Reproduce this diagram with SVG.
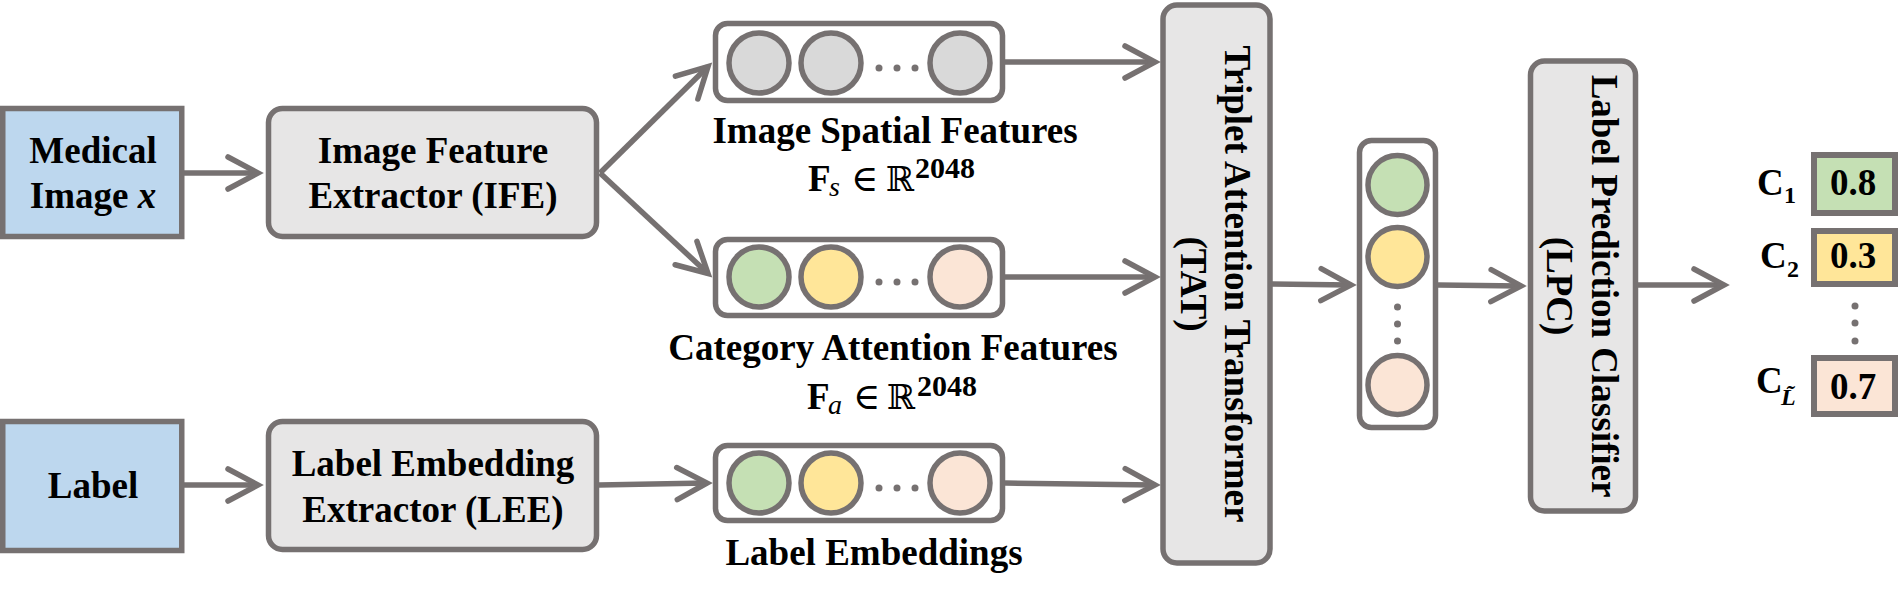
<svg xmlns="http://www.w3.org/2000/svg" width="1901" height="598" viewBox="0 0 1901 598">
<style>
.t{font-family:"Liberation Serif","Times New Roman",serif;font-weight:bold;font-size:37px;fill:#000}
.c{text-anchor:middle}
.box{fill:#e7e6e6;stroke:#767171;stroke-width:5.5}
.in{fill:#bdd7ee;stroke:#767171;stroke-width:5.5}
.vec{fill:#fff;stroke:#767171;stroke-width:5.5}
.cir{stroke:#767171;stroke-width:5.5}
.g{fill:#d9d9d9}.gr{fill:#c5e0b4}.ye{fill:#ffe699}.pe{fill:#fbe5d6}
.dot{fill:#767171}
.out{stroke:#767171;stroke-width:6}
.conn line{stroke:#767171;stroke-width:5.5;fill:none;marker-end:url(#ah)}
.m{font-family:"Liberation Serif","DejaVu Serif",serif;font-size:37px;fill:#000}
</style>
<defs>
<marker id="ah" markerUnits="userSpaceOnUse" markerWidth="50" markerHeight="50" viewBox="-40 -25 50 50" refX="0" refY="0" orient="auto" overflow="visible">
<path d="M-30,-16 L0,0 L-30,16" fill="none" stroke="#767171" stroke-width="5.5" stroke-linecap="round" stroke-linejoin="miter"/>
</marker>
</defs>

<g id="medical-image">
<rect class="in" x="2.75" y="108.5" width="179" height="128"/>
<text class="t c" x="93" y="163">Medical</text>
<text class="t c" x="93" y="208">Image <tspan font-style="italic">x</tspan></text>
</g>

<g id="label">
<rect class="in" x="2.75" y="421.5" width="179" height="129"/>
<text class="t c" x="93" y="498">Label</text>
</g>

<g id="ife">
<rect class="box" x="268.5" y="108.5" width="328" height="128" rx="14"/>
<text class="t c" x="433" y="163">Image Feature</text>
<text class="t c" x="433" y="208">Extractor (IFE)</text>
</g>

<g id="lee">
<rect class="box" x="268.5" y="421.5" width="328" height="128" rx="14"/>
<text class="t c" x="433" y="476">Label Embedding</text>
<text class="t c" x="433" y="522">Extractor (LEE)</text>
</g>

<g id="spatial-features">
<rect class="vec" x="715.5" y="23.5" width="287" height="77" rx="12"/>
<circle class="cir g" cx="759" cy="63" r="30"/>
<circle class="cir g" cx="831" cy="63" r="30"/>
<circle class="cir g" cx="960" cy="63" r="30"/>
<circle class="dot" cx="879" cy="68" r="3.5"/>
<circle class="dot" cx="897" cy="68" r="3.5"/>
<circle class="dot" cx="915" cy="68" r="3.5"/>
<text class="t c" x="895" y="143">Image Spatial Features</text>
<text class="m" y="191"><tspan x="808" font-weight="bold">F</tspan><tspan x="829" y="196" font-style="italic" font-size="28">s</tspan><tspan x="851" y="191">∈</tspan><tspan x="886" y="191" font-family="DejaVu Serif,serif" font-size="34">ℝ</tspan><tspan x="915" y="178" font-size="30" font-weight="bold">2048</tspan></text>
</g>

<g id="category-features">
<rect class="vec" x="715.5" y="239.5" width="287" height="76" rx="12"/>
<circle class="cir gr" cx="759" cy="277" r="30"/>
<circle class="cir ye" cx="831" cy="277" r="30"/>
<circle class="cir pe" cx="960" cy="277" r="30"/>
<circle class="dot" cx="879" cy="282" r="3.5"/>
<circle class="dot" cx="897" cy="282" r="3.5"/>
<circle class="dot" cx="915" cy="282" r="3.5"/>
<text class="t c" x="893" y="360">Category Attention Features</text>
<text class="m" y="409"><tspan x="807" font-weight="bold">F</tspan><tspan x="828" y="414" font-style="italic" font-size="28">a</tspan><tspan x="853" y="409">∈</tspan><tspan x="887" y="409" font-family="DejaVu Serif,serif" font-size="34">ℝ</tspan><tspan x="917" y="396" font-size="30" font-weight="bold">2048</tspan></text>
</g>

<g id="label-embeddings">
<rect class="vec" x="715.5" y="445.5" width="287" height="75" rx="12"/>
<circle class="cir gr" cx="759" cy="483" r="30"/>
<circle class="cir ye" cx="831" cy="483" r="30"/>
<circle class="cir pe" cx="960" cy="483" r="30"/>
<circle class="dot" cx="879" cy="488" r="3.5"/>
<circle class="dot" cx="897" cy="488" r="3.5"/>
<circle class="dot" cx="915" cy="488" r="3.5"/>
<text class="t c" x="874" y="565">Label Embeddings</text>
</g>

<g id="tat">
<rect class="box" x="1163" y="5" width="107" height="558" rx="14"/>
<text class="t c" transform="translate(1225,284) rotate(90)">Triplet Attention Transformer</text>
<text class="t c" transform="translate(1181,284) rotate(90)">(TAT)</text>
</g>

<g id="fused-vector">
<rect class="vec" x="1359.5" y="140.5" width="76" height="287" rx="12"/>
<circle class="cir gr" cx="1397.5" cy="185" r="29.5"/>
<circle class="cir ye" cx="1397.5" cy="257" r="29.5"/>
<circle class="cir pe" cx="1397.5" cy="385" r="29.5"/>
<circle class="dot" cx="1397.5" cy="307" r="3.5"/>
<circle class="dot" cx="1397.5" cy="324" r="3.5"/>
<circle class="dot" cx="1397.5" cy="341" r="3.5"/>
</g>

<g id="lpc">
<rect class="box" x="1530.5" y="61" width="105" height="450" rx="14"/>
<text class="t c" transform="translate(1592,286) rotate(90)">Label Prediction Classifier</text>
<text class="t c" transform="translate(1547,286) rotate(90)">(LPC)</text>
</g>

<g id="output-c1">
<text class="t" x="1757" y="195" font-size="34">C<tspan x="1784" y="203" font-size="24">1</tspan></text>
<rect class="out gr" x="1814" y="155" width="81" height="58"/>
<text class="t c" x="1853" y="195" font-size="34">0.8</text>
</g>

<g id="output-c2">
<text class="t" x="1760" y="268" font-size="34">C<tspan x="1787" y="277" font-size="24">2</tspan></text>
<rect class="out ye" x="1814" y="231" width="81" height="53"/>
<text class="t c" x="1853" y="268" font-size="34">0.3</text>
</g>

<g id="output-dots">
<circle class="dot" cx="1855" cy="306" r="3.5"/>
<circle class="dot" cx="1855" cy="323" r="3.5"/>
<circle class="dot" cx="1855" cy="341" r="3.5"/>
</g>

<g id="output-cl">
<text class="t" x="1756" y="393" font-size="34">C<tspan x="1781" y="405" font-size="24" font-style="italic">L̃</tspan></text>
<rect class="out pe" x="1814" y="358" width="81" height="56"/>
<text class="t c" x="1853" y="399" font-size="34">0.7</text>
</g>

<g id="connectors" class="conn">
<line x1="184" y1="173" x2="258" y2="173"/>
<line x1="600" y1="173" x2="708" y2="66.5"/>
<line x1="600" y1="173" x2="708" y2="273.5"/>
<line x1="1005" y1="62" x2="1155" y2="62"/>
<line x1="1005" y1="277" x2="1155" y2="277"/>
<line x1="184" y1="485" x2="258" y2="485"/>
<line x1="599" y1="485" x2="707" y2="483"/>
<line x1="1005" y1="483" x2="1155" y2="485"/>
<line x1="1272" y1="284" x2="1351" y2="285"/>
<line x1="1438" y1="285" x2="1521" y2="286"/>
<line x1="1638" y1="285" x2="1724" y2="285"/>
</g>
</svg>
